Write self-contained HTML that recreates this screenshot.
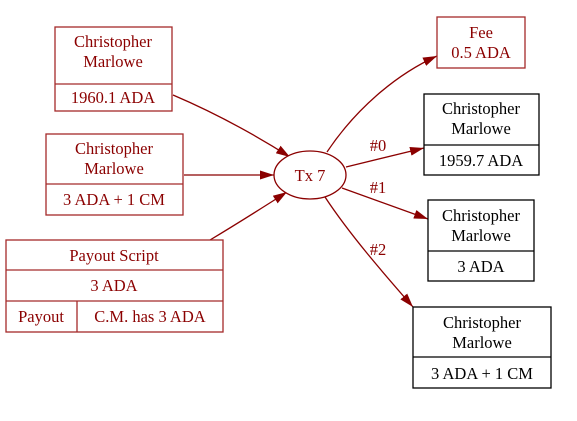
<!DOCTYPE html>
<html><head><meta charset="utf-8"><style>
html,body{margin:0;padding:0;background:#fff}
svg text{font-family:"Liberation Serif",serif;font-size:16.5px;text-anchor:middle}
</style></head><body>
<svg width="577" height="416" viewBox="0 0 577 416" xmlns="http://www.w3.org/2000/svg">
<defs>
<marker id="a" viewBox="0 0 14 10" refX="14" refY="5" markerWidth="14" markerHeight="10" markerUnits="userSpaceOnUse" orient="auto"><path d="M0,0.5 L14,5 L0,9.5 z" fill="#8b0000"/></marker>
</defs>
<g fill="none" stroke="#8b0000" stroke-width="1.3">
<path d="M173,95 C220,115 260,138 290,157" marker-end="url(#a)"/>
<path d="M184,175 L274,175" marker-end="url(#a)"/>
<path d="M210,240 C235,225 262,208 287,192" marker-end="url(#a)"/>
<path d="M327,152 C355,110 395,75 437,56" marker-end="url(#a)"/>
<path d="M346,167 L424,148" marker-end="url(#a)"/>
<path d="M342,188 L428,219" marker-end="url(#a)"/>
<path d="M325,197 C350,235 385,275 413,307" marker-end="url(#a)"/>
</g>
<g fill="#fff" stroke="#a52a2a" stroke-width="1.3">
<rect x="55" y="27" width="117" height="84"/><line x1="55" y1="84" x2="172" y2="84"/>
<rect x="46" y="134" width="137" height="81"/><line x1="46" y1="184" x2="183" y2="184"/>
<rect x="6" y="240" width="217" height="92"/><line x1="6" y1="270" x2="223" y2="270"/><line x1="6" y1="301" x2="223" y2="301"/><line x1="77" y1="301" x2="77" y2="332"/>
<rect x="437" y="17" width="88" height="51"/>
</g>
<ellipse cx="310" cy="175" rx="36" ry="24" fill="#fff" stroke="#8b0000" stroke-width="1.3"/>
<g fill="#fff" stroke="#000" stroke-width="1.3">
<rect x="424" y="94" width="115" height="81"/><line x1="424" y1="145" x2="539" y2="145"/>
<rect x="428" y="200" width="106" height="81"/><line x1="428" y1="251" x2="534" y2="251"/>
<rect x="413" y="307" width="138" height="81"/><line x1="413" y1="357" x2="551" y2="357"/>
</g>
<g fill="#8b0000">
<text x="113" y="47">Christopher</text><text x="113" y="67">Marlowe</text><text x="113" y="103">1960.1 ADA</text>
<text x="114" y="154">Christopher</text><text x="114" y="174">Marlowe</text><text x="114" y="205">3 ADA + 1 CM</text>
<text x="114" y="261">Payout Script</text><text x="114" y="291">3 ADA</text>
<text x="41" y="322">Payout</text><text x="150" y="322">C.M. has 3 ADA</text>
<text x="310" y="181">Tx 7</text>
<text x="481" y="38">Fee</text><text x="481" y="58">0.5 ADA</text>
<text x="378" y="151">#0</text><text x="378" y="193">#1</text><text x="378" y="255">#2</text>
</g>
<g fill="#000">
<text x="481" y="114">Christopher</text><text x="481" y="134">Marlowe</text><text x="481" y="166">1959.7 ADA</text>
<text x="481" y="221">Christopher</text><text x="481" y="241">Marlowe</text><text x="481" y="272">3 ADA</text>
<text x="482" y="328">Christopher</text><text x="482" y="348">Marlowe</text><text x="482" y="379">3 ADA + 1 CM</text>
</g>
</svg>
</body></html>
